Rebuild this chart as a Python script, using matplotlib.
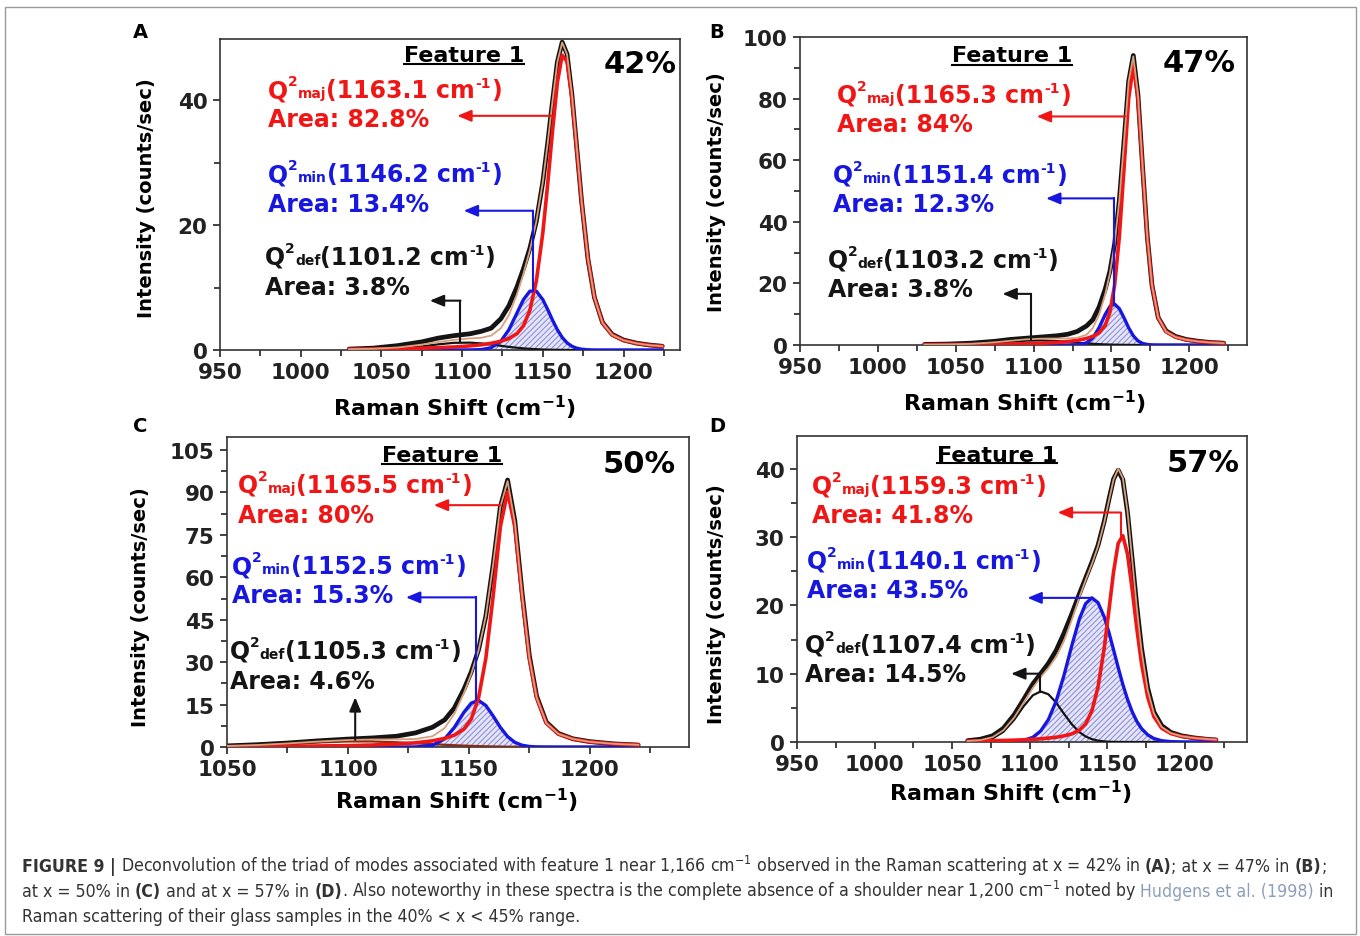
import matplotlib
matplotlib.use("Agg")
import matplotlib.pyplot as plt
import numpy as np
from matplotlib.ticker import MultipleLocator
from matplotlib import font_manager
from matplotlib.patches import Rectangle
from matplotlib.lines import Line2D

# ---- data (x in cm-1, y in counts/sec) ----
# panel A, x = 42%
xa = [1030, 1045, 1060, 1075, 1085, 1095, 1105, 1112, 1118, 1124, 1129, 1134, 1138, 1142, 1146, 1150,
      1153, 1156, 1159, 1162, 1165, 1168, 1171, 1174, 1178, 1182, 1187, 1193, 1200, 1208, 1216, 1224]
maj_a = [0.13, 0.16, 0.21, 0.29, 0.37, 0.48, 0.66, 0.84, 1.07, 1.41, 1.84, 2.62, 3.88, 6.37, 11.05, 18.75,
         26.5, 35.0, 42.8, 47.2, 46.2, 40.4, 32.2, 23.75, 14.5, 8.38, 4.35, 2.42, 1.55, 1.07, 0.78, 0.60]
min_a = [0, 0, 0, 0, 0, 0, 0.01, 0.07, 0.37, 1.40, 3.25, 5.93, 8.07, 9.42, 9.42, 8.07,
         6.50, 4.80, 3.25, 2.02, 1.15, 0.60, 0.29, 0.13, 0.04, 0, 0, 0, 0, 0, 0, 0]
def_a = [0.0, 0.04, 0.19, 0.57, 0.90, 1.15, 1.18, 1.05, 0.87, 0.67, 0.50, 0.36, 0.26, 0.19, 0.13, 0.08,
         0.06, 0.04, 0.03, 0.02, 0.01, 0, 0, 0, 0, 0, 0, 0, 0, 0, 0, 0]
obs_a = [0.15, 0.3, 0.7, 1.3, 1.9, 2.3, 2.6, 3.0, 3.5, 5.0, 7.1, 10.1, 13.0, 16.3, 20.6, 26.9,
         33.1, 39.8, 46.1, 49.3, 47.4, 41.0, 32.5, 23.9, 14.5, 8.4, 4.4, 2.5, 1.6, 1.1, 0.8, 0.6]

# panel B, x = 47%
xb = [1030, 1045, 1060, 1075, 1085, 1095, 1105, 1115, 1122, 1128, 1134, 1138, 1142, 1146, 1149, 1152,
      1155, 1158, 1161, 1164, 1167, 1170, 1173, 1176, 1180, 1185, 1191, 1198, 1206, 1214, 1222]
maj_b = [0.12, 0.15, 0.18, 0.25, 0.32, 0.43, 0.57, 0.83, 1.12, 1.51, 2.13, 2.80, 3.92, 6.37, 10.66, 19.4,
         34.9, 57.0, 79.9, 90.7, 79.9, 57.0, 34.9, 19.4, 8.87, 4.34, 2.60, 1.69, 1.12, 0.80, 0.59]
min_b = [0, 0, 0, 0, 0, 0, 0, 0, 0, 0.07, 0.70, 2.31, 5.60, 9.95, 12.53, 13.27,
         11.83, 8.87, 5.60, 2.97, 1.33, 0.50, 0.16, 0.04, 0.01, 0, 0, 0, 0, 0, 0]
def_b = [0.0, 0.04, 0.19, 0.63, 1.05, 1.40, 1.49, 1.28, 1.0, 0.75, 0.52, 0.39, 0.28, 0.19, 0.14, 0.10,
         0.08, 0.05, 0.04, 0.02, 0.01, 0, 0, 0, 0, 0, 0, 0, 0, 0, 0]
obs_b = [0.2, 0.3, 0.6, 1.2, 1.8, 2.2, 2.6, 3.0, 3.5, 4.4, 6.2, 8.2, 12.3, 18.2, 24.0, 32.8,
         46.8, 65.9, 85.5, 94.0, 81.2, 57.5, 35.1, 19.4, 8.9, 4.6, 2.8, 1.8, 1.2, 0.8, 0.6]

# panel C, x = 50%
xc = [1050, 1062, 1075, 1088, 1100, 1110, 1120, 1128, 1135, 1140, 1144, 1148, 1151, 1154,
      1157, 1160, 1163, 1166, 1169, 1172, 1175, 1178, 1182, 1187, 1193, 1200, 1210, 1220]
maj_c = [0.16, 0.20, 0.26, 0.36, 0.50, 0.70, 1.02, 1.48, 2.19, 3.05, 4.19, 6.38, 9.93, 17.4,
         31.3, 53.1, 77.8, 90.2, 77.8, 53.1, 31.3, 17.4, 8.45, 4.60, 2.84, 1.83, 1.12, 0.75]
min_c = [0, 0, 0, 0, 0, 0, 0, 0.03, 0.62, 2.87, 6.95, 12.34, 15.54, 16.47,
         14.67, 11.0, 6.95, 3.68, 1.65, 0.62, 0.20, 0.05, 0.01, 0, 0, 0, 0, 0]
def_c = [0.19, 0.48, 1.0, 1.6, 1.96, 1.96, 1.68, 1.33, 1.0, 0.78, 0.62, 0.48, 0.39, 0.31,
         0.25, 0.19, 0.15, 0.11, 0.09, 0.06, 0.05, 0.03, 0.02, 0.01, 0, 0, 0, 0]
obs_c = [0.4, 0.8, 1.4, 2.2, 2.8, 3.2, 3.8, 5.0, 7.0, 9.6, 13.8, 20.5, 26.6, 34.4,
         46.2, 64.3, 84.9, 94.4, 80.0, 54.5, 32.3, 18.0, 8.8, 4.8, 2.9, 1.9, 1.1, 0.7]

# panel D, x = 57%
xd = [1060, 1068, 1076, 1083, 1090, 1096, 1102, 1107, 1112, 1117, 1122, 1127, 1132, 1136, 1140, 1144, 1148,
      1151, 1154, 1157, 1160, 1163, 1166, 1169, 1172, 1176, 1180, 1185, 1191, 1198, 1206, 1214, 1220]
maj_d = [0.13, 0.16, 0.19, 0.23, 0.27, 0.32, 0.39, 0.47, 0.57, 0.70, 0.89, 1.18, 1.73, 2.64, 4.52, 8.05, 13.76,
         19.25, 24.9, 29.1, 30.2, 27.5, 22.3, 16.6, 11.5, 6.58, 3.71, 2.02, 1.23, 0.83, 0.58, 0.43, 0.35]
min_d = [0, 0, 0, 0.01, 0.06, 0.22, 0.69, 1.60, 3.28, 5.98, 9.71, 14.03, 18.03, 20.25, 21.1, 20.4, 18.3,
         16.06, 13.5, 10.89, 8.42, 6.24, 4.43, 3.02, 1.97, 1.05, 0.51, 0.19, 0.05, 0.01, 0, 0, 0]
def_d = [0.02, 0.11, 0.51, 1.48, 3.26, 5.21, 6.84, 7.4, 6.99, 5.77, 4.15, 2.62, 1.44, 0.81, 0.42, 0.20, 0.09,
         0.04, 0.02, 0.01, 0, 0, 0, 0, 0, 0, 0, 0, 0, 0, 0, 0, 0]
obs_d = [0.2, 0.4, 0.9, 2.0, 4.0, 6.2, 8.5, 10.0, 11.5, 13.4, 15.9, 18.7, 21.7, 24.0, 26.3, 28.8, 32.3,
         35.5, 38.5, 39.8, 38.4, 33.6, 26.8, 19.9, 13.8, 7.9, 4.4, 2.4, 1.4, 0.9, 0.6, 0.4, 0.3]

# fitted band labels: (centre, area)
bands_a = [("1163.1", "82.8%"), ("1146.2", "13.4%"), ("1101.2", "3.8%")]
bands_b = [("1165.3", "84%"), ("1151.4", "12.3%"), ("1103.2", "3.8%")]
bands_c = [("1165.5", "80%"), ("1152.5", "15.3%"), ("1105.3", "4.6%")]
bands_d = [("1159.3", "41.8%"), ("1140.1", "43.5%"), ("1107.4", "14.5%")]
compositions = ["42%", "47%", "50%", "57%"]

W, H = 1360, 937
plt.rcParams["font.family"] = "DejaVu Sans"
plt.rcParams["font.weight"] = "bold"
plt.rcParams["mathtext.default"] = "regular"
plt.rcParams["hatch.linewidth"] = 0.8

RED = "#f01616"
BLUE = "#1717e0"
TAN = "#d8a07c"
DARK = "#141414"

fig = plt.figure(figsize=(13.6, 9.37), dpi=100)


def fx(px):
    return px / W


def fy(py):
    return 1 - py / H


# layout of each panel in pixels
panels = [
    dict(tag="A", box=(220, 40, 680, 351), xlim=(950, 1235), ylim=(0, 49.8), ymaj=20, ymin=10,
         x=xa, maj=maj_a, mnr=min_a, dfc=def_a, obs=obs_a, bands=bands_a, pct=compositions[0], defcol=DARK,
         feat=(404, 62, 65), pctpos=(604, 73), rows=[(268, 98, 127), (268, 182, 212), (265, 265, 295)],
         arrows=[[(1156, 37.5), (1097, 37.5)], [(1144, 9.5), (1144, 22.3), (1101, 22.3)],
                 [(1099, 1.5), (1099, 7.9), (1080, 7.9)]],
         letter=(140, 32), ylab=(147, 198), xlab=(454, 408)),
    dict(tag="B", box=(800, 38, 1247, 346), xlim=(950, 1237), ylim=(0, 100), ymaj=20, ymin=10,
         x=xb, maj=maj_b, mnr=min_b, dfc=def_b, obs=obs_b, bands=bands_b, pct=compositions[1], defcol=DARK,
         feat=(952, 62, 66), pctpos=(1163, 72), rows=[(837, 103, 132), (833, 183, 212), (828, 268, 297)],
         arrows=[[(1159, 74.2), (1102, 74.2)], [(1151.5, 13.3), (1151.5, 47.6), (1108, 47.6)],
                 [(1098, 1.8), (1098, 16.6), (1080, 16.6)]],
         letter=(717, 32), ylab=(717, 192), xlab=(1024, 403)),
    dict(tag="C", box=(227, 438, 689, 748), xlim=(1050, 1241), ylim=(0, 109.6), ymaj=15, ymin=7.5,
         x=xc, maj=maj_c, mnr=min_c, dfc=def_c, obs=obs_c, bands=bands_c, pct=compositions[2], defcol="#8a2a10",
         feat=(382, 462, 465), pctpos=(603, 473), rows=[(238, 493, 523), (232, 574, 603), (230, 659, 689)],
         arrows=[[(1163, 85.5), (1135.5, 85.5)], [(1153, 16.5), (1153, 52.9), (1124, 52.9)],
                 [(1103, 2.5), (1103, 17.6)]],
         letter=(140, 426), ylab=(140, 607), xlab=(456, 801)),
    dict(tag="D", box=(797, 437, 1247, 743), xlim=(950, 1240), ylim=(0, 44.8), ymaj=10, ymin=5,
         x=xd, maj=maj_d, mnr=min_d, dfc=def_d, obs=obs_d, bands=bands_d, pct=compositions[3], defcol=DARK,
         feat=(937, 462, 464), pctpos=(1167, 472), rows=[(812, 494, 523), (807, 569, 598), (805, 653, 682)],
         arrows=[[(1158.5, 30.2), (1158.5, 33.6), (1118, 33.6)], [(1140.3, 21.1), (1098.5, 21.1)],
                 [(1106.6, 7.3), (1106.6, 10.0), (1088, 10.0)]],
         letter=(717, 426), ylab=(717, 604), xlab=(1010, 793)),
]

renderer = fig.canvas.get_renderer()


def text_width(s, **kw):
    t1 = fig.text(0, 0, "|" + s + "|", **kw)
    t2 = fig.text(0, 0, "||", **kw)
    w = t1.get_window_extent(renderer).width - t2.get_window_extent(renderer).width
    t1.remove()
    t2.remove()
    return w


def put_runs(x, y, runs, **base):
    # runs: (text, size, weight, colour, rise in px)
    for s, size, weight, color, rise in runs:
        kw = dict(fontsize=size, fontweight=weight, color=color, **base)
        fig.text(fx(x), fy(y - rise), s, ha="left", va="baseline", **kw)
        x += text_width(s, **kw)


def draw_panel(p):
    l, t, r, b = p["box"]
    ax = fig.add_axes([fx(l), fy(b), (r - l) / W, (b - t) / H])
    x = np.array(p["x"], dtype=float)
    maj = np.array(p["maj"])
    mnr = np.array(p["mnr"])
    dfc = np.array(p["dfc"])
    obs = np.array(p["obs"])
    fit = maj + mnr + dfc

    ax.plot(x, obs, color=DARK, lw=3.4, zorder=2, solid_capstyle="round")
    ax.fill_between(x, 0, mnr, facecolor="#e6e6f8", edgecolor="#8c90dc", hatch="//////", lw=0, zorder=1)
    ax.plot(x, dfc, color=p["defcol"], lw=1.6, zorder=3)
    ax.plot(x, mnr, color=BLUE, lw=2.4, zorder=3)
    ax.plot(x, maj, color=RED, lw=2.6, zorder=3)
    ax.plot(x, fit, color=TAN, lw=1.3, zorder=4)

    ax.set_xlim(*p["xlim"])
    ax.set_ylim(*p["ylim"])
    ax.xaxis.set_major_locator(MultipleLocator(50))
    ax.xaxis.set_minor_locator(MultipleLocator(25))
    ax.yaxis.set_major_locator(MultipleLocator(p["ymaj"]))
    ax.yaxis.set_minor_locator(MultipleLocator(p["ymin"]))
    ax.tick_params(which="both", direction="out", top=False, right=False, width=1.2, colors="#222222")
    ax.tick_params(which="major", length=5, pad=4, labelsize=15.5)
    ax.tick_params(which="minor", length=4)
    for sp in ax.spines.values():
        sp.set_linewidth(1.2)
        sp.set_color("#333333")

    # arrows from the bands to their labels
    cols = [RED, BLUE, DARK]
    for pts, c in zip(p["arrows"], cols):
        xs = [q[0] for q in pts]
        ys = [q[1] for q in pts]
        if len(pts) > 2:
            ax.plot(xs[:-1], ys[:-1], color=c, lw=1.5, zorder=5)
        ax.annotate("", xy=pts[-1], xytext=pts[-2],
                    arrowprops=dict(arrowstyle="-|>,head_length=0.6,head_width=0.25", color=c, lw=1.5,
                                    shrinkA=0, shrinkB=0, mutation_scale=14), zorder=5)

    # texts
    fxp, fyp, uly = p["feat"]
    tf = fig.text(fx(fxp), fy(fyp), "Feature 1", fontsize=16, ha="left", va="baseline")
    bb = tf.get_window_extent(renderer)
    fig.add_artist(Line2D([fx(bb.x0), fx(bb.x1)], [fy(uly), fy(uly)], transform=fig.transFigure,
                          color="black", lw=1.5))
    fig.text(fx(p["pctpos"][0]), fy(p["pctpos"][1]), p["pct"], fontsize=22, ha="left", va="baseline")

    subs = ["maj", "min", "def"]
    for (cen, area), (tx, y1, y2), c, s in zip(p["bands"], p["rows"], cols, subs):
        put_runs(tx, y1, [("Q", 17, "bold", c, 0), ("2", 10, "bold", c, 12), (s, 10, "bold", c, 0),
                          ("(%s cm" % cen, 17, "bold", c, 0), ("-1", 10, "bold", c, 10), (")", 17, "bold", c, 0)])
        fig.text(fx(tx), fy(y2), "Area: " + area, color=c, fontsize=17, ha="left", va="baseline")

    fig.text(fx(p["letter"][0]), fy(p["letter"][1]), p["tag"], fontsize=14, ha="center", va="center")
    fig.text(fx(p["ylab"][0]), fy(p["ylab"][1]), "Intensity (counts/sec)", fontsize=14, rotation=90,
             ha="center", va="center")
    fig.text(fx(p["xlab"][0]), fy(p["xlab"][1]), "Raman Shift (cm$^{-1}$)", fontsize=16,
             ha="center", va="center")


for p in panels:
    draw_panel(p)

# ---- caption ----
names = {f.name for f in font_manager.fontManager.ttflist}
if "Liberation Sans Narrow" in names:
    cap_base = dict(family="Liberation Sans Narrow")
else:
    cap_base = dict(family="DejaVu Sans", stretch="condensed")

CAPC = "#333333"
LINK = "#8c9fb8"
line1 = [("FIGURE 9 |", "bold", CAPC),
         (" Deconvolution of the triad of modes associated with feature 1 near 1,166 cm$^{-1}$ observed in the "
          "Raman scattering at x = 42% in ", "normal", CAPC),
         ("(A)", "bold", CAPC), ("; at x = 47% in ", "normal", CAPC), ("(B)", "bold", CAPC), (";", "normal", CAPC)]
line2 = [("at x = 50% in ", "normal", CAPC), ("(C)", "bold", CAPC), (" and at x = 57% in ", "normal", CAPC),
         ("(D)", "bold", CAPC),
         (". Also noteworthy in these spectra is the complete absence of a shoulder near 1,200 cm$^{-1}$ noted by ",
          "normal", CAPC),
         ("Hudgens et al. (1998)", "normal", LINK), (" in", "normal", CAPC)]
line3 = [("Raman scattering of their glass samples in the 40% < x < 45% range.", "normal", CAPC)]

# size the caption so the last line spans the same width as in the figure
w13 = text_width(line3[0][0], fontsize=13, fontweight="normal", **cap_base)
cap_size = 13 * 560 / w13

for y, line in zip([872, 897, 922], [line1, line2, line3]):
    put_runs(22, y, [(s, cap_size, wt, c, 0) for s, wt, c in line], **cap_base)

fig.add_artist(Rectangle((fx(5), fy(935)), 1351 / W, 927 / H, transform=fig.transFigure,
                         fill=False, edgecolor="#9a9a9a", lw=1.0))

fig.savefig("out.png", dpi=100)
